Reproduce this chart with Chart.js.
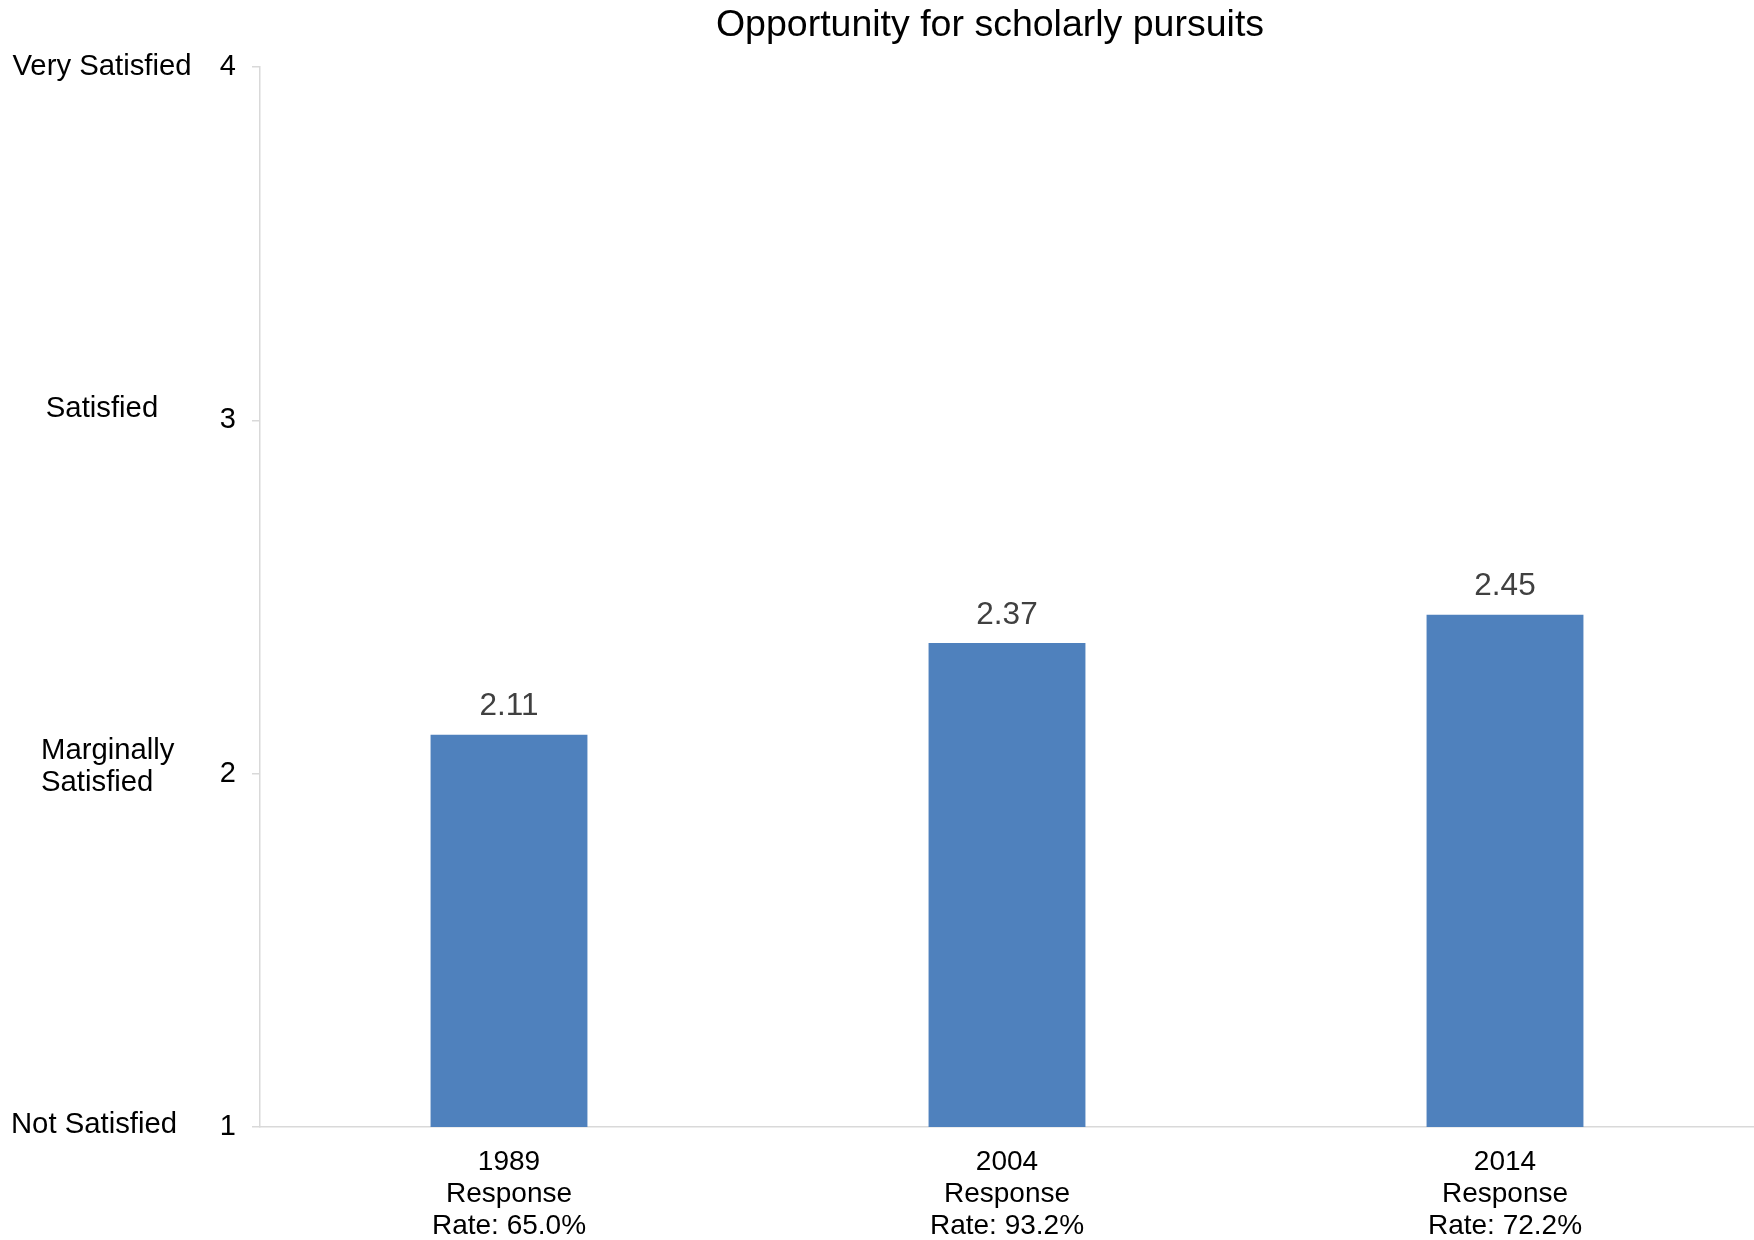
<!DOCTYPE html>
<html>
<head>
<meta charset="utf-8">
<script src="https://cdn.jsdelivr.net/npm/chart.js@4/dist/chart.umd.min.js"></script>
<style>
  html, body { margin: 0; padding: 0; background: #ffffff; }
  #wrap { width: 1754px; height: 1240px; }
</style>
</head>
<body>
<div id="wrap"><canvas id="c" width="1754" height="1240"></canvas></div>
<script>
const chartTitle = 'Opportunity for scholarly pursuits';
const categories = [
  ['1989', 'Response', 'Rate: 65.0%'],
  ['2004', 'Response', 'Rate: 93.2%'],
  ['2014', 'Response', 'Rate: 72.2%']
];
const values = [2.11, 2.37, 2.45];
const valueLabels = ['2.11', '2.37', '2.45'];
const yTickValues = [1, 2, 3, 4];
const yLevelLabels = [['Not Satisfied'], ['Marginally', 'Satisfied'], ['Satisfied'], ['Very Satisfied']];

const FONT = '"Liberation Sans", Arial, Helvetica, sans-serif';

const decorPlugin = {
  id: 'decor',
  afterDraw(chart) {
    const ctx = chart.ctx;
    const y = chart.scales.y;
    ctx.save();
    // Title
    ctx.fillStyle = '#000000';
    ctx.font = '37.5px ' + FONT;
    ctx.textAlign = 'center';
    ctx.textBaseline = 'middle';
    ctx.fillText(chartTitle, 990, 26);
    // Level labels on the left
    ctx.font = '29.3px ' + FONT;
    const place = [
      { x: 94, align: 'center', dy: -2 },
      { x: 41, align: 'left', dy: -7 },
      { x: 102, align: 'center', dy: -11 },
      { x: 102, align: 'center', dy: 0 }
    ];
    yLevelLabels.forEach((lines, i) => {
      const cy = y.getPixelForValue(yTickValues[i]) + place[i].dy;
      const lh = 32.5;
      const startY = cy - (lines.length - 1) * lh / 2;
      ctx.textAlign = place[i].align;
      lines.forEach((ln, j) => ctx.fillText(ln, place[i].x, startY + j * lh));
    });
    // Value labels above bars
    const meta = chart.getDatasetMeta(0);
    ctx.fillStyle = '#404040';
    ctx.font = '31.5px ' + FONT;
    ctx.textAlign = 'center';
    meta.data.forEach((bar, i) => {
      ctx.fillText(valueLabels[i], bar.x, bar.y - 28);
    });
    ctx.restore();
  }
};

new Chart(document.getElementById('c'), {
  type: 'bar',
  data: {
    labels: categories,
    datasets: [{
      data: values,
      backgroundColor: '#4F81BD',
      borderWidth: 0,
      categoryPercentage: 1,
      barPercentage: 0.315
    }]
  },
  options: {
    responsive: false,
    animation: false,
    devicePixelRatio: 1,
    layout: { padding: { top: 67, left: 0, right: 0, bottom: 0 } },
    plugins: {
      legend: { display: false },
      title: { display: false },
      tooltip: { enabled: false }
    },
    scales: {
      x: {
        grid: { display: false, drawTicks: false },
        border: { display: true, color: '#d9d9d9', width: 1.5 },
        ticks: {
          color: '#000000',
          font: { family: FONT, size: 28, lineHeight: 1.15 },
          padding: 19,
          maxRotation: 0,
          autoSkip: false
        },
        afterFit(scale) { scale.height = 113; }
      },
      y: {
        min: 1,
        max: 4,
        grid: { drawOnChartArea: false, drawTicks: true, tickLength: 8, color: '#d9d9d9', lineWidth: 1.5 },
        border: { display: true, color: '#d9d9d9', width: 1.5 },
        ticks: {
          stepSize: 1,
          color: '#000000',
          font: { family: FONT, size: 29 },
          padding: 16,
          callback: (v) => (yTickValues.includes(v) ? String(v) : '')
        },
        afterFit(scale) { scale.width = 260; }
      }
    }
  },
  plugins: [decorPlugin]
});
</script>
</body>
</html>
